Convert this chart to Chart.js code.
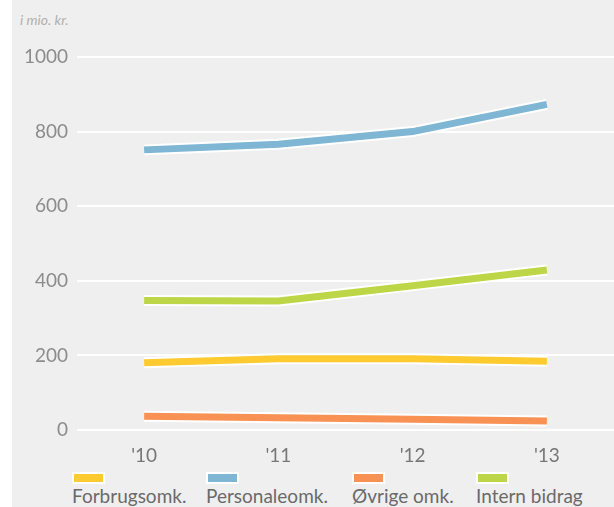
<html>
<head>
    <script src="https://cdn.jsdelivr.net/npm/chart.js@4.4.1/dist/chart.umd.min.js"></script>
    <style>
        body { margin: 0; background: #fff; font-family: Lato, "Open Sans", sans-serif; }
        .panel { position: absolute; left: 12px; top: 0; width: 602px; height: 507px; background: #efefef; overflow: hidden; }
        .unit { position: absolute; left: 8px; top: 11px; font-size: 14px; font-style: italic; color: #b0b0b0; }
        .chartbox { position: absolute; left: 0; top: 0; width: 602px; height: 470px; }
        .item { position: absolute; top: 472px; font-size: 19px; line-height: 22px; color: #6a6a6a; white-space: nowrap; }
        .box { width: 29px; height: 8px; border: 2px solid #fff; margin-bottom: 1px; }
    </style>
</head>
<body>
    <div class="panel">
        <div class="unit">i mio. kr.</div>
        <div class="chartbox"><canvas id="chart"></canvas></div>
        <div id="legend"></div>
    </div>
    <script>
        // values, mio. kr.
        var years = ["'10", "'11", "'12", "'13"];
        var forbrug = [180, 191, 191, 184];
        var personale = [751, 766, 800, 873];
        var ovrige = [37, 33, 29, 24];
        var intern = [347, 346, 387, 429];
        var yTicks = [0, 200, 400, 600, 800, 1000];

        var series = [
            { label: 'Forbrugsomk.', data: forbrug, color: '#fdca30', x: 60 },
            { label: 'Personaleomk.', data: personale, color: '#7eb6d4', x: 194 },
            { label: 'Øvrige omk.', data: ovrige, color: '#f89154', x: 340 },
            { label: 'Intern bidrag', data: intern, color: '#bdd647', x: 464 }
        ];

        var datasets = [];
        series.forEach(function(s) {
            // white outline underneath
            datasets.push({ label: s.label, data: s.data, borderColor: '#fff', borderWidth: 11, order: 2,
                pointRadius: 0, tension: 0, borderCapStyle: 'butt', borderJoinStyle: 'miter' });
            datasets.push({ label: s.label, data: s.data, borderColor: s.color, borderWidth: 7, order: 1,
                pointRadius: 0, tension: 0, borderCapStyle: 'butt', borderJoinStyle: 'miter' });
        });

        var legend = document.getElementById('legend');
        series.forEach(function(s) {
            legend.innerHTML += '<div class="item" style="left:' + s.x + 'px"><div class="box" style="background:' + s.color + '"></div>' + s.label + '</div>';
        });

        new Chart(document.getElementById('chart'), {
            type: 'line',
            data: { labels: years, datasets: datasets },
            options: {
                responsive: true,
                maintainAspectRatio: false,
                animation: false,
                layout: { padding: { top: 57, right: 0, bottom: 0, left: 0 } },
                plugins: { legend: { display: false }, tooltip: { enabled: false } },
                scales: {
                    x: {
                        offset: true,
                        grid: { display: false },
                        border: { display: false },
                        ticks: { color: '#777', font: { family: 'Lato', size: 19 }, padding: 6 },
                        afterFit: function(s) { s.height = 40; }
                    },
                    y: {
                        min: 0, max: 1000,
                        afterBuildTicks: function(s) { s.ticks = yTicks.map(function(v) { return { value: v }; }); },
                        grid: { color: '#fff', lineWidth: 2, drawTicks: false },
                        border: { display: false },
                        ticks: { color: '#8c8c8c', font: { family: 'Lato', size: 19 }, padding: 9,
                            callback: function(v) { return String(v); } },
                        afterFit: function(s) { s.width = 65; }
                    }
                }
            }
        });
    </script>
</body>
</html>
